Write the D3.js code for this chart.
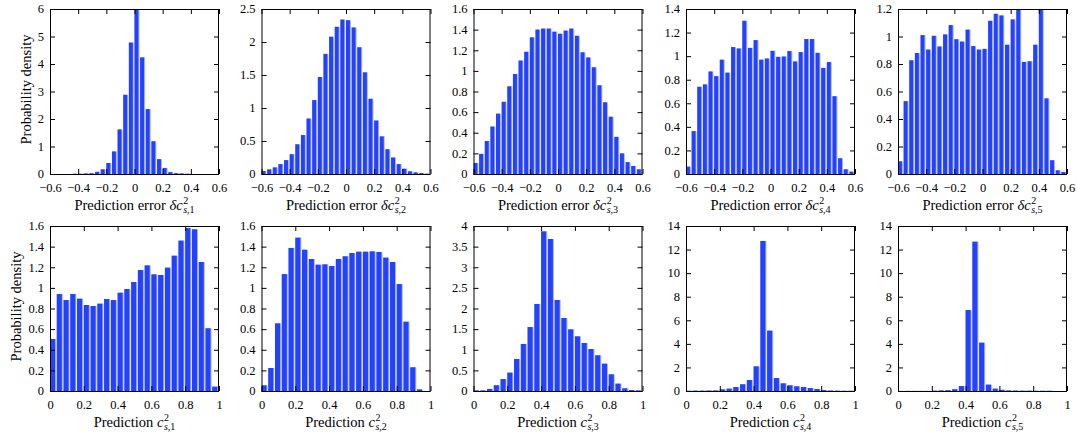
<!DOCTYPE html>
<html>
<head>
<meta charset="utf-8">
<script src="https://cdn.jsdelivr.net/npm/d3@7"></script>
<style>
  html, body { margin: 0; padding: 0; background: #fff; }
  svg { display: block; }
</style>
</head>
<body>
<svg id="chart" width="1077" height="432"></svg>
<script>
// ---- Histogram bins (left edges, width 0.04) ----
const binWidth = 0.04;
const errEdges = [-0.60,-0.56,-0.52,-0.48,-0.44,-0.40,-0.36,-0.32,-0.28,-0.24,-0.20,-0.16,-0.12,-0.08,-0.04,
                   0.00, 0.04, 0.08, 0.12, 0.16, 0.20, 0.24, 0.28, 0.32, 0.36, 0.40, 0.44, 0.48, 0.52, 0.56];
const predEdges = [0.00,0.04,0.08,0.12,0.16,0.20,0.24,0.28,0.32,0.36,0.40,0.44,0.48,
                   0.52,0.56,0.60,0.64,0.68,0.72,0.76,0.80,0.84,0.88,0.92,0.96];

// ---- Probability density of the prediction error, components 1..5 ----
const errDensity1 = [0,0,0,0,0.01,0.01,0.02,0.03,0.08,0.17,0.40,0.82,1.62,2.88,4.78,
                     5.98,4.24,2.36,1.19,0.54,0.22,0.07,0.03,0.02,0.01,0,0,0,0,0];
const errDensity2 = [0.045,0.07,0.10,0.15,0.21,0.30,0.45,0.59,0.84,1.12,1.47,1.82,2.08,2.23,2.34,
                     2.33,2.22,1.92,1.54,1.14,0.81,0.57,0.375,0.25,0.15,0.08,0.04,0.025,0.015,0.005];
const errDensity3 = [0.107,0.195,0.32,0.46,0.585,0.70,0.85,0.97,1.10,1.185,1.325,1.40,1.41,1.41,1.38,
                     1.36,1.39,1.41,1.34,1.18,1.13,1.035,0.86,0.695,0.555,0.36,0.20,0.115,0.078,0.045];
const errDensity4 = [0.062,0.364,0.74,0.76,0.87,0.83,0.97,0.86,1.077,1.065,1.30,1.07,1.136,0.97,0.98,
                     1.045,0.994,0.997,1.043,0.955,1.034,1.145,1.145,1.028,0.90,0.95,0.66,0.133,0.04,0.02];
const errDensity5 = [0.092,0.53,0.827,0.88,1.01,0.905,1.005,0.927,1.015,1.083,0.98,0.963,1.05,0.93,0.905,
                     0.91,1.114,1.165,1.153,0.94,1.124,1.20,0.815,0.82,0.94,1.20,0.55,0.10,0.027,0.015];

// ---- Probability density of the prediction, components 1..5 ----
const predDensity1 = [0.504,0.94,0.882,0.94,0.895,0.834,0.824,0.847,0.892,0.882,0.953,0.989,1.057,
                      1.173,1.218,1.131,1.125,1.196,1.312,1.458,1.58,1.568,1.251,0.608,0.042];
const predDensity2 = [0.055,0.223,0.656,1.134,1.387,1.487,1.37,1.28,1.225,1.228,1.212,1.28,1.306,
                      1.338,1.351,1.351,1.354,1.348,1.293,1.251,1.037,0.672,0.23,0.016,0];
const predDensity3 = [0.015,0.015,0.05,0.14,0.29,0.445,0.776,1.14,1.55,2.11,3.87,3.685,2.206,
                      1.77,1.495,1.325,1.164,1.018,0.865,0.663,0.404,0.178,0.065,0.024,0.015];
const predDensity4 = [0.02,0.03,0.03,0.04,0.05,0.14,0.20,0.34,0.57,0.93,2.09,12.73,5.12,
                      1.10,0.65,0.48,0.40,0.34,0.25,0.17,0.08,0.04,0.03,0.02,0.02];
const predDensity5 = [0.01,0.01,0.01,0.01,0.01,0.03,0.05,0.07,0.15,0.42,6.87,12.67,4.10,
                      0.54,0.20,0.10,0.05,0.04,0.03,0.03,0.02,0.02,0.02,0,0];

// ---- Axis ticks ----
const errXTicks  = [-0.6,-0.4,-0.2,0,0.2,0.4,0.6];
const predXTicks = [0,0.2,0.4,0.6,0.8,1];
const errYTicks = [
  [0,1,2,3,4,5,6],
  [0,0.5,1,1.5,2,2.5],
  [0,0.2,0.4,0.6,0.8,1,1.2,1.4,1.6],
  [0,0.2,0.4,0.6,0.8,1,1.2,1.4],
  [0,0.2,0.4,0.6,0.8,1,1.2]
];
const predYTicks = [
  [0,0.2,0.4,0.6,0.8,1,1.2,1.4,1.6],
  [0,0.2,0.4,0.6,0.8,1,1.2,1.4,1.6],
  [0,0.5,1,1.5,2,2.5,3,3.5,4],
  [0,2,4,6,8,10,12,14],
  [0,2,4,6,8,10,12,14]
];
const componentLabels = ["1","2","3","4","5"];
const yAxisTitle = "Probability density";

// ---- Layout ----
const font = "'Liberation Serif','Times New Roman',Times,serif";
const panelLeft = [50, 261.5, 473.5, 686, 898];
const panelW = 169, panelH = 165;
const rowTop = [9, 226];
const barColor = "#2442fb", barEdge = "#a9b6ff";
const tickLen = 5;
const tickFont = "12.5px";
const fmt = d3.format("~g");

const svg = d3.select("#chart").style("font-family", font);

const errSets  = [errDensity1, errDensity2, errDensity3, errDensity4, errDensity5];
const predSets = [predDensity1, predDensity2, predDensity3, predDensity4, predDensity5];

const panels = [];
errSets.forEach((v, i) => panels.push({
  row: 0, col: i, values: v, edges: errEdges, xDomain: [-0.6, 0.6], xTicks: errXTicks,
  yTicks: errYTicks[i], prefix: "Prediction error ", sym: "\u03B4c", idx: componentLabels[i]
}));
predSets.forEach((v, i) => panels.push({
  row: 1, col: i, values: v, edges: predEdges, xDomain: [0, 1], xTicks: predXTicks,
  yTicks: predYTicks[i], prefix: "Prediction ", sym: "c", idx: componentLabels[i]
}));

panels.forEach((p, k) => {
  const x0 = panelLeft[p.col], y0 = rowTop[p.row];
  const x = d3.scaleLinear().domain(p.xDomain).range([x0, x0 + panelW]);
  const y = d3.scaleLinear().domain([0, d3.max(p.yTicks)]).range([y0 + panelH, y0]);

  const clipId = "clip" + k;
  svg.append("clipPath").attr("id", clipId)
    .append("rect").attr("x", x0).attr("y", y0).attr("width", panelW).attr("height", panelH);

  const bars = svg.append("g").attr("clip-path", `url(#${clipId})`);
  const data = p.edges.map((e, i) => ({ e, v: p.values[i] }));
  const bw = d => x(d.e + binWidth) - x(d.e);
  // light right-hand edge of each box
  bars.selectAll("rect.edge").data(data).enter().append("rect")
    .attr("class", "edge")
    .attr("x", d => x(d.e))
    .attr("width", d => bw(d) - 0.7)
    .attr("y", d => y(d.v))
    .attr("height", d => y(0) - y(d.v))
    .attr("fill", barEdge);
  // solid box fill
  bars.selectAll("rect.fill").data(data).enter().append("rect")
    .attr("class", "fill")
    .attr("x", d => x(d.e))
    .attr("width", d => bw(d) - 1.7)
    .attr("y", d => y(d.v))
    .attr("height", d => y(0) - y(d.v))
    .attr("fill", barColor);

  // axes with inward ticks on all four sides
  const axB = d3.axisBottom(x).tickValues(p.xTicks).tickSizeInner(-tickLen).tickSizeOuter(0).tickPadding(9).tickFormat(fmt);
  const axT = d3.axisTop(x).tickValues(p.xTicks).tickSizeInner(-tickLen).tickSizeOuter(0).tickFormat("");
  const axL = d3.axisLeft(y).tickValues(p.yTicks).tickSizeInner(-tickLen).tickSizeOuter(0).tickPadding(6).tickFormat(fmt);
  const axR = d3.axisRight(y).tickValues(p.yTicks).tickSizeInner(-tickLen).tickSizeOuter(0).tickFormat("");

  const styleAxis = g => {
    g.select(".domain").remove();
    g.selectAll("line").attr("stroke", "#000").attr("stroke-width", 1);
    g.selectAll("text").attr("fill", "#000").style("font-family", font).style("font-size", tickFont);
  };
  svg.append("g").attr("transform", `translate(0,${y0 + panelH})`).call(axB).call(styleAxis);
  svg.append("g").attr("transform", `translate(0,${y0})`).call(axT).call(styleAxis);
  const leftAxis = svg.append("g").attr("transform", `translate(${x0},0)`).call(axL).call(styleAxis);
  leftAxis.selectAll("text").attr("dy", "0.3em");
  svg.append("g").attr("transform", `translate(${x0 + panelW},0)`).call(axR).call(styleAxis);

  svg.append("rect").attr("x", x0 + 0.5).attr("y", y0 + 0.5)
    .attr("width", panelW - 1).attr("height", panelH)
    .attr("fill", "none").attr("stroke", "#000").attr("stroke-width", 1);

  // x-axis title with stacked super/subscript
  const base = y0 + panelH + 35.5;
  const tg = svg.append("g");
  const t = tg.append("text").attr("x", 0).attr("y", base).style("font-size", "14.5px").attr("fill", "#000");
  t.append("tspan").text(p.prefix);
  t.append("tspan").style("font-style", "italic").text(p.sym);
  const w = t.node().getComputedTextLength();
  const sup = tg.append("text").attr("x", w + 0.5).attr("y", base - 6)
    .style("font-size", "10px").attr("fill", "#000").text("2");
  const sub = tg.append("text").attr("x", w + 0.5).attr("y", base + 3)
    .style("font-size", "10px").attr("fill", "#000");
  sub.append("tspan").style("font-style", "italic").text("s");
  sub.append("tspan").text("," + p.idx);
  const total = w + 0.5 + Math.max(sup.node().getComputedTextLength(), sub.node().getComputedTextLength());
  tg.attr("transform", `translate(${x0 + panelW / 2 - total / 2},0)`);

  if (p.col === 0) {
    // place the rotated title just left of the widest tick label
    let minLeft = x0;
    leftAxis.selectAll("text").each(function () {
      const b = this.getBBox();
      minLeft = Math.min(minLeft, x0 + b.x);
    });
    svg.append("text")
      .attr("transform", `translate(${minLeft - 7},${y0 + panelH / 2 - 2}) rotate(-90)`)
      .attr("text-anchor", "middle")
      .style("font-size", "14.5px").attr("fill", "#000")
      .text(yAxisTitle);
  }
});
</script>
</body>
</html>
